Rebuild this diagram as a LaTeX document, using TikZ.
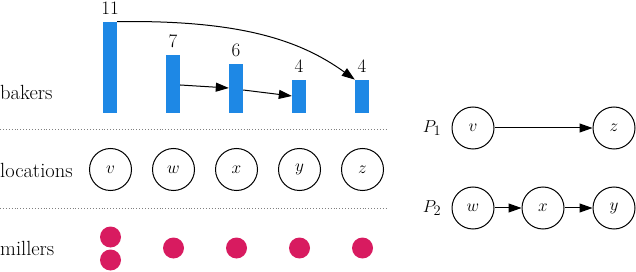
\documentclass[tikz,border=0pt]{standalone}
\usetikzlibrary{arrows.meta}
\definecolor{barblue}{HTML}{1E88E5}
\definecolor{millred}{HTML}{D81B60}
\begin{document}
\begin{tikzpicture}[x=1pt,y=-1pt,
  every node/.style={font=\fontsize{19}{22}\selectfont},
  bar/.style={fill=barblue, draw=none, minimum width=14pt, inner sep=0pt, anchor=south},
  num/.style={inner sep=0pt},
  loc/.style={circle, draw, line width=1pt, minimum size=42pt, inner sep=0pt},
  mill/.style={circle, fill=millred, minimum size=21pt, inner sep=0pt},
  rowlab/.style={anchor=west, inner sep=0pt, font=\fontsize{20.5}{23}\selectfont},
  sep/.style={dotted, gray, line width=0.9pt},
  arr/.style={line width=1pt, -{Triangle[length=13pt,width=9pt]}}
]
\useasboundingbox (0,0) rectangle (636,272);
% bars
\node[bar, minimum height=91pt] (b1) at (110,113) {};
\node[bar, minimum height=58pt] (b2) at (173,113) {};
\node[bar, minimum height=49pt] (b3) at (236,113) {};
\node[bar, minimum height=33pt] (b4) at (299,113) {};
\node[bar, minimum height=33pt] (b5) at (362,113) {};
\node[num] (n1) at (110,8) {11};
\node[num] (n2) at (173,41) {7};
\node[num] (n3) at (236,50) {6};
\node[num] (n4) at (299,66) {4};
\node[num] (n5) at (362,66) {4};
% arrows between bars
\draw[arr] (b1.north east) .. controls (240,20) and (300,40) .. (b5.north west);
\draw[arr] ([yshift=28pt]b2.south east) -- ([yshift=25pt]b3.south west);
\draw[arr] ([yshift=23pt]b3.south east) -- ([yshift=17pt]b4.south west);
% row labels
\node[rowlab] (lb) at (0,92) {bakers};
\node[rowlab] (ll) at (0,170) {locations};
\node[rowlab] (lm) at (0,248) {millers};
% separators
\coordinate (s1a) at (0,129.5); \coordinate (s1b) at (387,129.5);
\coordinate (s2a) at (0,208.5); \coordinate (s2b) at (387,208.5);
\draw[sep] (s1a) -- (s1b);
\draw[sep] (s2a) -- (s2b);
% locations
\node[loc] (v) at (110.5,169.5) {$v$};
\node[loc] (w) at (173.5,169.5) {$w$};
\node[loc] (x) at (236.5,169.5) {$x$};
\node[loc] (y) at (299.5,169.5) {$y$};
\node[loc] (z) at (362.5,169.5) {$z$};
% millers
\node[mill] (m1) at (110.5,237) {};
\node[mill] (m2) at (110.5,260) {};
\node[mill] (m3) at (173.5,248) {};
\node[mill] (m4) at (236.5,248) {};
\node[mill] (m5) at (299.5,248) {};
\node[mill] (m6) at (362.5,248) {};
% paths
\node[inner sep=0pt] (p1) at (432,128) {$P_1$};
\node[loc] (pv) at (473,128) {$v$};
\node[loc] (pz) at (614,128) {$z$};
\draw[arr] (pv) -- (pz);
\node[inner sep=0pt] (p2) at (432,208) {$P_2$};
\node[loc] (pw) at (473,208) {$w$};
\node[loc] (px) at (543,208) {$x$};
\node[loc] (py) at (614,208) {$y$};
\draw[arr] (pw) -- (px);
\draw[arr] (px) -- (py);
\end{tikzpicture}
\end{document}
